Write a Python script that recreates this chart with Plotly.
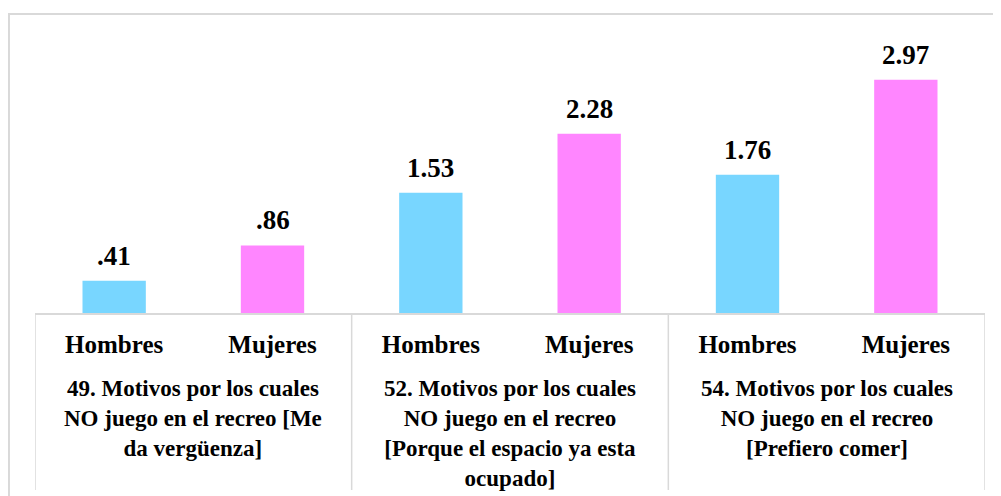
import plotly.graph_objects as go

groups = [
    "49. Motivos por los cuales<br>NO juego en el recreo [Me<br>da vergüenza]",
    "52. Motivos por los cuales<br>NO juego en el recreo<br>[Porque el espacio ya esta<br>ocupado]",
    "54. Motivos por los cuales<br>NO juego en el recreo<br>[Prefiero comer]",
]
sexes = ["Hombres", "Mujeres"]
hombres = [0.41, 1.53, 1.76]
mujeres = [0.86, 2.28, 2.97]

colors = {"Hombres": "#78D6FF", "Mujeres": "#FF86FF"}
font_family = "Liberation Serif"
grid_gray = "#d9d9d9"

xs, labels, values, bar_colors = [], [], [], []
for gi, (h, m) in enumerate(zip(hombres, mujeres)):
    for si, (s, v) in enumerate(zip(sexes, [h, m])):
        xs.append(gi * len(sexes) + si)
        labels.append(s)
        values.append(v)
        bar_colors.append(colors[s])


def fmt(v):
    s = f"{v:.2f}"
    return s[1:] if s.startswith("0") else s


fig = go.Figure(go.Bar(
    x=xs,
    y=values,
    width=0.4,
    marker=dict(color=bar_colors, line=dict(width=0)),
    hoverinfo="y",
))

# value labels above the bars
for x, v in zip(xs, values):
    fig.add_annotation(
        x=x, y=v, text=f"<b>{fmt(v)}</b>",
        showarrow=False, yanchor="bottom", yshift=8,
        font=dict(family=font_family, size=27, color="black"),
    )

# group labels + dividers
n = len(sexes)
for gi, g in enumerate(groups):
    fig.add_annotation(
        x=gi * n + (n - 1) / 2, y=0, xref="x", yref="paper",
        text=f"<b>{g}</b>", showarrow=False,
        yanchor="top", yshift=-61, align="center",
        font=dict(family=font_family, size=23, color="black"),
    )
for b in range(len(groups) + 1):
    fig.add_shape(
        type="line", xref="x", yref="paper",
        x0=b * n - 0.5, x1=b * n - 0.5,
        ysizemode="pixel", yanchor=0, y0=0, y1=-177,
        line=dict(color=grid_gray, width=1.5),
    )

# outer chart frame
fig.add_shape(
    type="rect", xref="paper", yref="paper",
    x0=-0.0274, x1=1.2, y0=-1.0, y1=1.087,
    line=dict(color=grid_gray, width=2), fillcolor="rgba(0,0,0,0)",
    layer="below",
)

fig.update_xaxes(
    range=[-0.5, len(xs) - 0.5],
    tickvals=xs, ticktext=[f"<b>{t}</b>" for t in labels],
    showline=True, linecolor=grid_gray, linewidth=1.5,
    tickfont=dict(family=font_family, size=25, color="black"),
    ticks="", ticklabelstandoff=8, showgrid=False, zeroline=False,
    automargin=False,
)
fig.update_yaxes(range=[0, 3.5], visible=False, showgrid=False, automargin=False)

# page body has an 8px margin, so the figure is drawn 8px smaller
fig.update_layout(
    width=993, height=488,
    margin=dict(l=27, r=16, t=30, b=183),
    plot_bgcolor="white", paper_bgcolor="white",
    showlegend=False,
    font=dict(family=font_family, color="black"),
)

fig.write_html("out.html")
